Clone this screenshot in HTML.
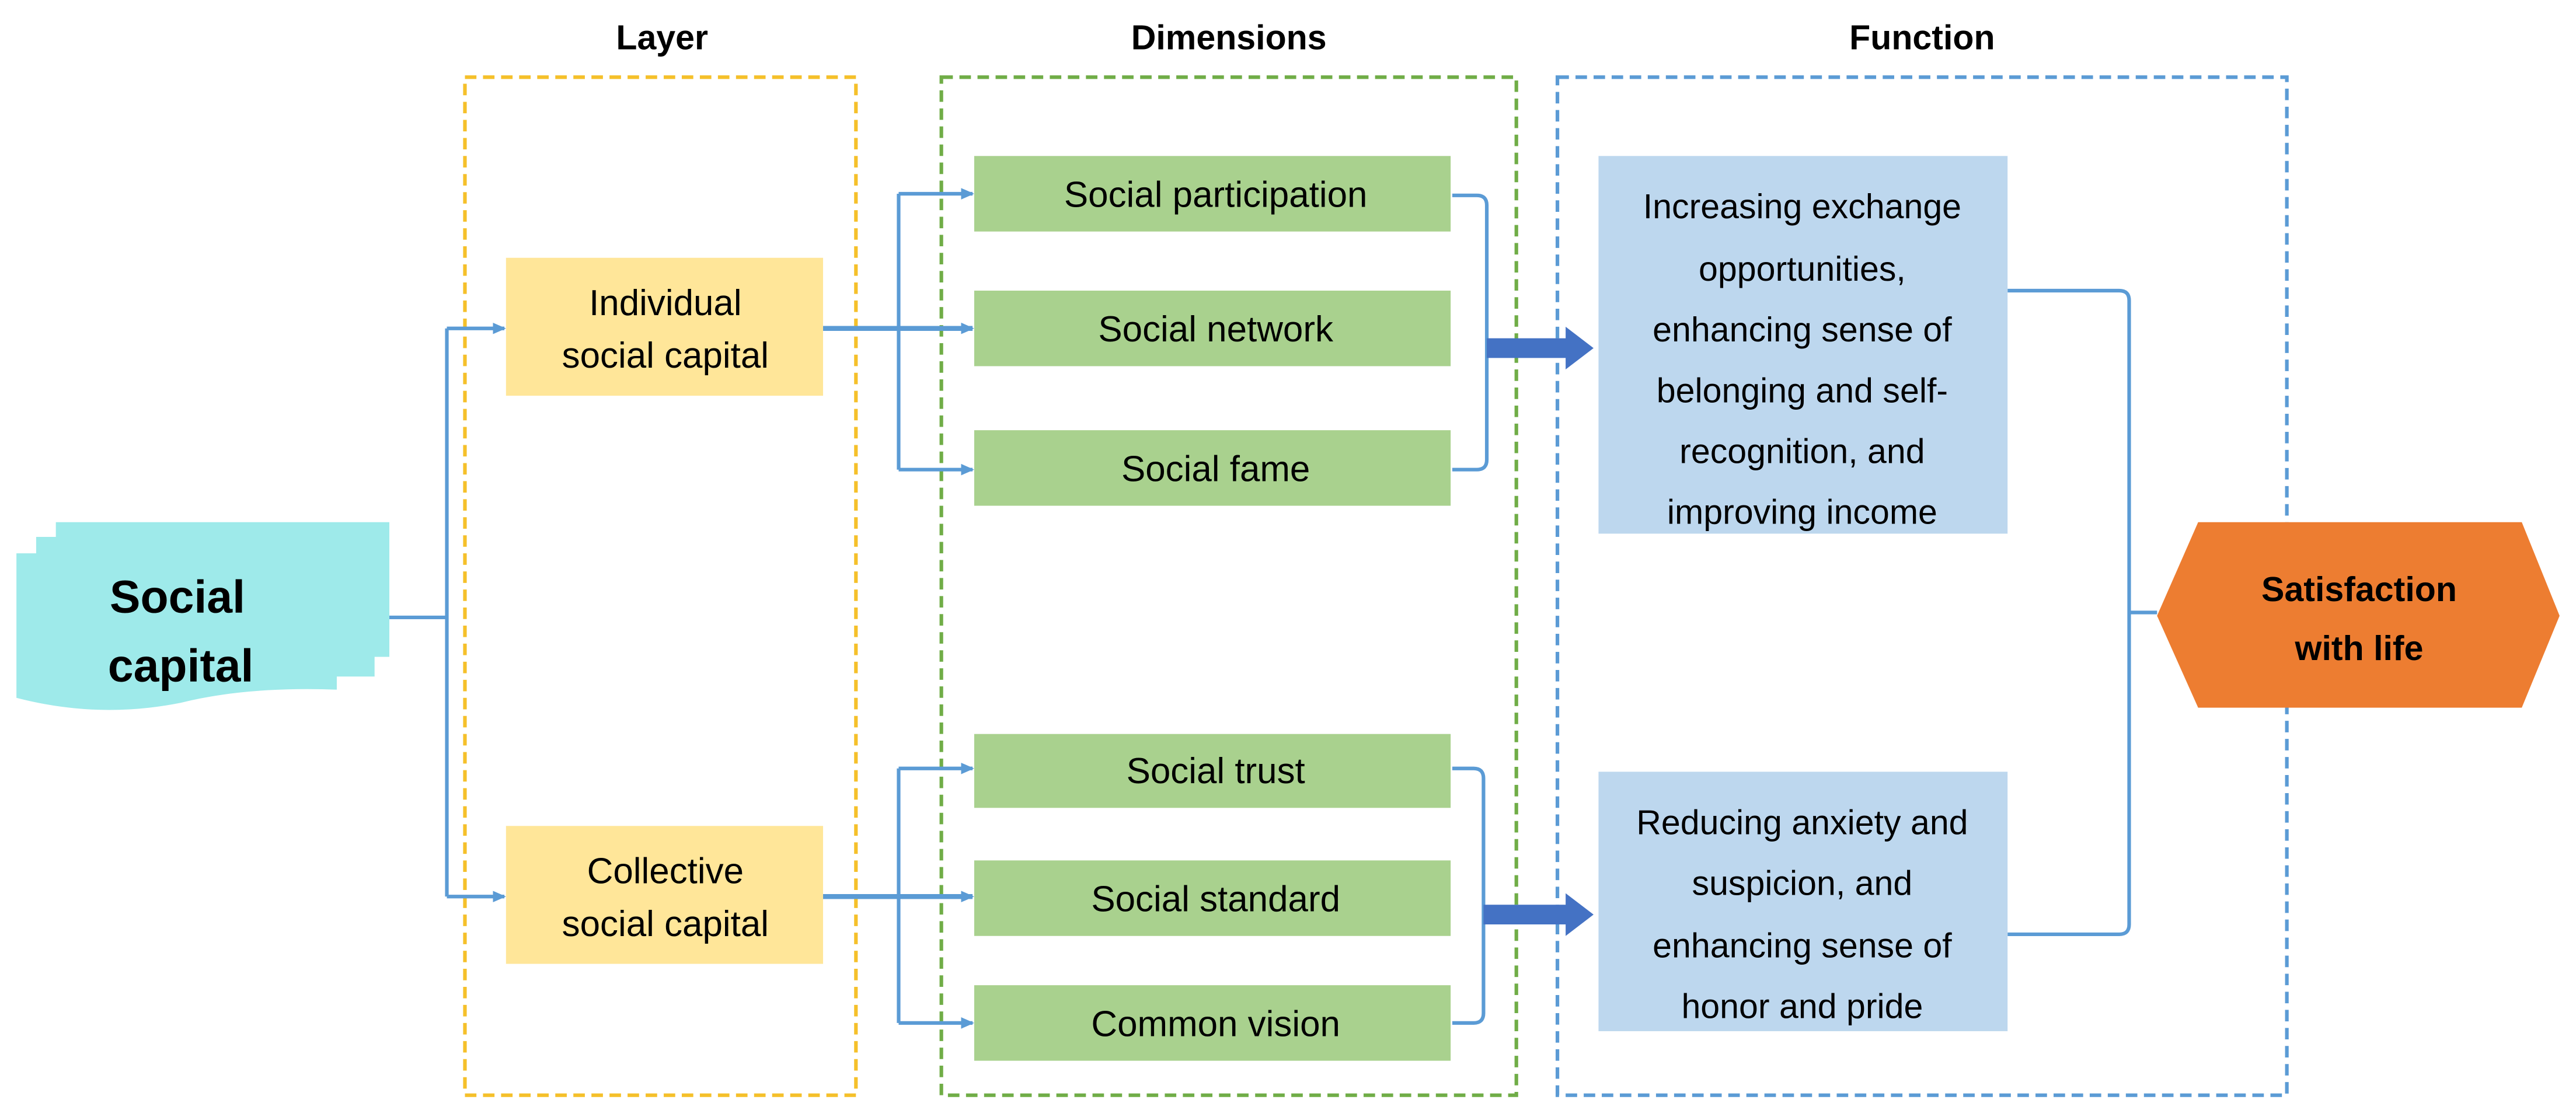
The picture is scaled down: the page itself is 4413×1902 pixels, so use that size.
<!DOCTYPE html>
<html><head><meta charset="utf-8"><style>
html,body{margin:0;padding:0;background:#fff;}
svg{display:block;}
text{font-family:"Liberation Sans",sans-serif;fill:#000;}
</style></head><body>
<svg width="4413" height="1902" viewBox="0 0 1568 676" preserveAspectRatio="none" xmlns="http://www.w3.org/2000/svg">
<defs>
<marker id="a" markerWidth="8" markerHeight="8" refX="7" refY="4" orient="auto" markerUnits="userSpaceOnUse">
<path d="M0,0.5 L8,4 L0,7.5 Z" fill="#5B9BD5"/></marker>
</defs>
<g font-weight="bold" font-size="21" text-anchor="middle">
<text x="403" y="30">Layer</text>
<text x="748" y="30">Dimensions</text>
<text x="1170" y="30">Function</text>
</g>
<rect x="283" y="47" width="238" height="620" fill="none" stroke="#F5C02A" stroke-width="2.2" stroke-dasharray="7,4"/>
<rect x="573" y="47" width="350" height="620" fill="none" stroke="#70AD47" stroke-width="2.2" stroke-dasharray="7,4"/>
<rect x="948" y="47" width="444" height="620" fill="none" stroke="#5B9BD5" stroke-width="2.2" stroke-dasharray="7,4"/>
<path d="M34,318 H237 V400 H228 V412 H205 V420 Q150,418 110,428 Q60,438 10,425 V337 H22 V327 H34 Z" fill="#9EEAEA"/>
<g font-weight="bold" font-size="28" text-anchor="middle">
<text x="108" y="373">Social</text>
<text x="110" y="415">capital</text>
</g>
<g stroke="#5B9BD5" stroke-width="2.2" fill="none">
<path d="M237,376 H272"/>
<path d="M272,200 V546"/>
<path d="M272,200 H307" marker-end="url(#a)"/>
<path d="M272,546 H307" marker-end="url(#a)"/>
<path d="M501,200 H592" marker-end="url(#a)" stroke-width="3"/>
<path d="M547,118 V286"/>
<path d="M547,118 H592" marker-end="url(#a)"/>
<path d="M547,286 H592" marker-end="url(#a)"/>
<path d="M501,546 H592" marker-end="url(#a)" stroke-width="3"/>
<path d="M547,468 V623"/>
<path d="M547,468 H592" marker-end="url(#a)"/>
<path d="M547,623 H592" marker-end="url(#a)"/>
<path d="M884,119 H899 Q905,119 905,125 V280 Q905,286 899,286 H884"/>
<path d="M884,468 H897 Q903,468 903,474 V617 Q903,623 897,623 H884"/>
<path d="M1222,177 H1290 Q1296,177 1296,183 V563 Q1296,569 1290,569 H1222"/>
<path d="M1296,373 H1313"/>
</g>
<path d="M905,206 H953 V199 L970,212 L953,225 V218 H905 Z" fill="#4472C4"/>
<path d="M903,551 H953 V544 L970,557 L953,570 V563 H903 Z" fill="#4472C4"/>
<rect x="308" y="157" width="193" height="84" fill="#FFE699"/>
<rect x="308" y="503" width="193" height="84" fill="#FFE699"/>
<g font-size="22" text-anchor="middle">
<text x="405" y="192">Individual</text>
<text x="405" y="224">social capital</text>
<text x="405" y="538">Collective</text>
<text x="405" y="570">social capital</text>
</g>
<g fill="#A9D18E">
<rect x="593" y="95" width="290" height="46"/>
<rect x="593" y="177" width="290" height="46"/>
<rect x="593" y="262" width="290" height="46"/>
<rect x="593" y="447" width="290" height="45"/>
<rect x="593" y="524" width="290" height="46"/>
<rect x="593" y="600" width="290" height="46"/>
</g>
<g font-size="22" text-anchor="middle">
<text x="740" y="126">Social participation</text>
<text x="740" y="208">Social network</text>
<text x="740" y="293">Social fame</text>
<text x="740" y="477">Social trust</text>
<text x="740" y="555">Social standard</text>
<text x="740" y="631">Common vision</text>
</g>
<rect x="973" y="95" width="249" height="230" fill="#BDD7EE"/>
<rect x="973" y="470" width="249" height="158" fill="#BDD7EE"/>
<g font-size="21" text-anchor="middle">
<text x="1097" y="133">Increasing exchange</text>
<text x="1097" y="171">opportunities,</text>
<text x="1097" y="208">enhancing sense of</text>
<text x="1097" y="245">belonging and self-</text>
<text x="1097" y="282">recognition, and</text>
<text x="1097" y="319">improving income</text>
<text x="1097" y="508">Reducing anxiety and</text>
<text x="1097" y="545">suspicion, and</text>
<text x="1097" y="583">enhancing sense of</text>
<text x="1097" y="620">honor and pride</text>
</g>
<path d="M1313,375 L1338,318 H1535 L1558,375 L1535,431 H1338 Z" fill="#ED7D31"/>
<g font-weight="bold" font-size="21" text-anchor="middle">
<text x="1436" y="366">Satisfaction</text>
<text x="1436" y="402">with life</text>
</g>
</svg>
</body></html>
